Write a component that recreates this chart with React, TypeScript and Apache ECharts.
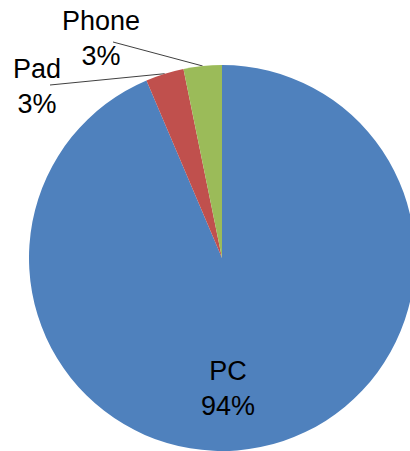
import React, { useEffect, useRef } from 'react';
import * as echarts from 'echarts';

const categories = ['PC', 'Pad', 'Phone'];
const values = [93.6, 3.2, 3.2];
const colors = ['#4F81BD', '#C0504D', '#9BBB59'];

// label placement (layout only)
const labelCenters: number[][] = [[228, 388], [37, 86], [101, 38.5]];
const lineEndOffsets: (number[] | null)[] = [null, [13, -1], [12, 3.5]];

export default function App() {
  const ref = useRef<HTMLDivElement>(null);
  useEffect(() => {
    const chart = echarts.init(ref.current!, null, { renderer: 'svg' });
    chart.setOption({
      animation: false,
      series: [
        {
          type: 'pie',
          center: [222, 258],
          radius: [0, 193],
          startAngle: 90,
          clockwise: true,
          avoidLabelOverlap: false,
          data: categories.map((name, i) => ({
            name,
            value: values[i],
            itemStyle: { color: colors[i] },
            label: { position: i === 0 ? 'inside' : 'outside' },
            labelLine: { show: i !== 0 },
          })),
          label: {
            formatter: (p: any) => `${p.name}\n${Math.round(p.percent)}%`,
            fontFamily: 'Liberation Sans, Arial, sans-serif',
            fontSize: 27,
            lineHeight: 35,
            color: '#000',
          },
          labelLine: {
            show: true,
            length: 10,
            length2: 10,
            lineStyle: { color: '#404040', width: 1 },
          },
          itemStyle: { borderWidth: 0 },
          emphasis: { disabled: true },
          labelLayout: (params: any) => {
            const i = params.dataIndex;
            const c = labelCenters[i];
            const res: any = { x: c[0], y: c[1], align: 'center', verticalAlign: 'middle' };
            const off = lineEndOffsets[i];
            if (off && params.labelLinePoints && params.labelLinePoints.length) {
              const start = params.labelLinePoints[0];
              res.labelLinePoints = [start, [c[0] + off[0], c[1] + off[1]]];
            }
            return res;
          },
        },
      ],
    });
    return () => chart.dispose();
  }, []);
  return (
    <div
      ref={ref}
      style={{ position: 'absolute', left: 0, top: 0, width: 410, height: 451 }}
    />
  );
}
